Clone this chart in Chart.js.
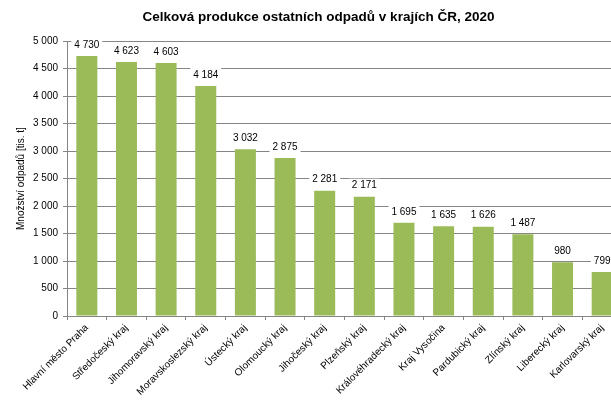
<!DOCTYPE html>
<html>
<head>
<meta charset="utf-8">
<script src="https://cdn.jsdelivr.net/npm/chart.js@4"></script>
<style>
  html, body { margin: 0; padding: 0; overflow: hidden; background: #fff; }
  #wrap { width: 625px; height: 406px; }
</style>
</head>
<body>
<div id="wrap"><canvas id="odpady_chart"></canvas></div>
<script>
const kraje = ['Hlavní město Praha', 'Středočeský kraj', 'Jihomoravský kraj', 'Moravskoslezský kraj',
  'Ústecký kraj', 'Olomoucký kraj', 'Jihočeský kraj', 'Plzeňský kraj', 'Královéhradecký kraj',
  'Kraj Vysočina', 'Pardubický kraj', 'Zlínský kraj', 'Liberecký kraj', 'Karlovarský kraj'];
const produkce = [4730, 4623, 4603, 4184, 3032, 2875, 2281, 2171, 1695, 1635, 1626, 1487, 980, 799];
const yMax = 5000;
const yStep = 500;

const FONT = 'Liberation Sans';
const fmt = v => String(v).replace(/\B(?=(\d{3})+(?!\d))/g, ' ');

// popisky nad sloupci s bilym pozadim
const barLabels = {
  id: 'barLabels',
  afterDatasetsDraw(chart) {
    const ctx = chart.ctx;
    const meta = chart.getDatasetMeta(0);
    ctx.save();
    ctx.font = '10px "' + FONT + '"';
    ctx.textAlign = 'center';
    ctx.textBaseline = 'middle';
    meta.data.forEach((bar, i) => {
      const txt = fmt(produkce[i]);
      const w = ctx.measureText(txt).width;
      const y = bar.y - 11;
      ctx.fillStyle = '#fff';
      ctx.fillRect(bar.x - w / 2 - 3, y - 7, w + 6, 14);
      ctx.fillStyle = '#000';
      ctx.fillText(txt, bar.x, y);
    });
    ctx.restore();
  }
};

const el = document.getElementById('odpady_chart');
new Chart(el, {
  type: 'bar',
  data: {
    labels: kraje,
    datasets: [{
      data: produkce,
      backgroundColor: '#9bbb59',
      borderWidth: 0,
      barPercentage: 0.53,
      categoryPercentage: 1
    }]
  },
  options: {
    responsive: true,
    maintainAspectRatio: false,
    animation: false,
    layout: { padding: { left: 15, right: 3, top: 0, bottom: 0 } },
    plugins: {
      legend: { display: false },
      tooltip: { enabled: false },
      title: {
        display: true,
        text: 'Celková produkce ostatních odpadů v krajích ČR, 2020',
        color: '#000',
        font: { family: FONT, size: 13.5, weight: 'bold' },
        padding: { top: 9, bottom: 16 }
      }
    },
    scales: {
      x: {
        grid: { drawOnChartArea: false, drawTicks: true, tickLength: 4, color: '#858585' },
        border: { color: '#858585' },
        ticks: {
          color: '#000',
          font: { family: FONT, size: 10 },
          maxRotation: 45,
          minRotation: 45,
          autoSkip: false,
          padding: 2
        },
        afterFit(scale) { scale.height = 90; }
      },
      y: {
        min: 0,
        max: yMax,
        grid: { color: '#858585', tickLength: 4 },
        border: { color: '#858585' },
        ticks: {
          stepSize: yStep,
          color: '#000',
          font: { family: FONT, size: 10 },
          padding: 5,
          callback: v => fmt(v)
        },
        title: {
          display: true,
          text: 'Množství odpadů [tis. t]',
          color: '#000',
          font: { family: FONT, size: 10 },
          padding: 0
        },
        afterFit(scale) { scale.width = 52; }
      }
    }
  },
  plugins: [barLabels]
});
</script>
</body>
</html>
